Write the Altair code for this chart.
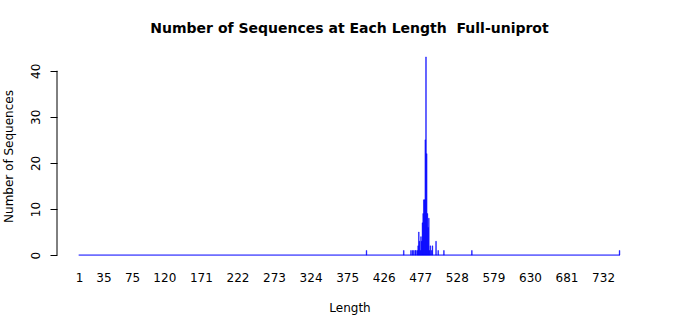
import altair as alt
import pandas as pd

# ---- data ----
lengths = [402, 454, 464, 466, 468, 470, 471, 473, 474, 475, 476, 477, 478, 479,
           480, 481, 482, 483, 484, 485, 486, 487, 488, 489, 490, 491, 493, 494,
           499, 502, 510, 549, 755]
counts = [1, 1, 1, 1, 1, 1, 1, 1, 2, 5, 3, 1, 4, 3,
          7, 9, 12, 12, 25, 43, 22, 9, 6, 8, 1, 2, 1, 2,
          3, 1, 1, 1, 1]
min_length = 1
x_ticks = [1, 35, 75, 120, 171, 222, 273, 324, 375, 426, 477, 528, 579, 630, 681, 732]
y_ticks = [0, 10, 20, 30, 40]

title_text = "Number of Sequences at Each Length\u00a0 Full-uniprot"

df = pd.DataFrame({"Length": lengths, "Count": counts})
df["base"] = 0

base_df = pd.DataFrame({"start": [min_length - 0.5], "end": [max(lengths) + 0.5], "base": [0]})
yaxis_df = pd.DataFrame({"y0": [min(y_ticks)], "y1": [max(y_ticks)]})

FONT = "DejaVu Sans"
xscale = alt.Scale(domain=[-29.7, 786.3], nice=False, zero=False, padding=0)
yscale = alt.Scale(domain=[-1.72, 44.72], nice=False, zero=False, padding=0)

x_axis = alt.Axis(values=x_ticks, title="Length", domain=False, ticks=False, tickSize=0,
                  grid=False, labelFont=FONT, labelFontSize=12, labelColor="black",
                  labelPadding=9.7, labelOverlap=False, labelFlush=False, labelBound=False,
                  titleFont=FONT, titleFontSize=12, titleFontWeight="normal",
                  titleColor="black", titleY=48, titleBaseline="alphabetic")
y_axis = alt.Axis(values=y_ticks, title="Number of Sequences", domain=False, ticks=True,
                  tickSize=7, tickColor="black", grid=False, labelFont=FONT,
                  labelFontSize=12, labelColor="black", labelAngle=270,
                  labelAlign="center", labelBaseline="bottom", labelPadding=8,
                  labelOverlap=False, labelFlush=False,
                  titleFont=FONT, titleFontSize=12, titleFontWeight="normal",
                  titleColor="black", titleAngle=270, titleX=-44.7,
                  titleBaseline="alphabetic")

baseline = alt.Chart(base_df).mark_rule(color="#0000ff", strokeWidth=1).encode(
    x=alt.X("start:Q", scale=xscale, axis=x_axis),
    x2="end:Q",
    y=alt.Y("base:Q", scale=yscale, axis=y_axis),
)

bars = alt.Chart(df).mark_bar(color="#0000ff", stroke="#0000ff", strokeWidth=0.4,
                              size=0.72).encode(
    x=alt.X("Length:Q", scale=xscale, axis=x_axis),
    y=alt.Y("Count:Q", scale=yscale, axis=y_axis),
    y2="base:Q",
)

yline = alt.Chart(yaxis_df).mark_rule(color="black", strokeWidth=1).encode(
    x=alt.value(0),
    y=alt.Y("y0:Q", scale=yscale, axis=y_axis),
    y2="y1:Q",
)

chart = alt.layer(baseline, bars, yline).properties(
    width=585,
    height=214,
    title=alt.TitleParams(title_text, font=FONT, fontSize=14, fontWeight="bold",
                          color="black", anchor="middle", baseline="alphabetic",
                          offset=2),
    padding={"left": 57, "top": 49, "right": 58, "bottom": 52},
    autosize=alt.AutoSizeParams(type="none"),
    background="white",
).configure_view(stroke=None)

chart.save("out.html", embed_options={"renderer": "svg", "actions": False})
